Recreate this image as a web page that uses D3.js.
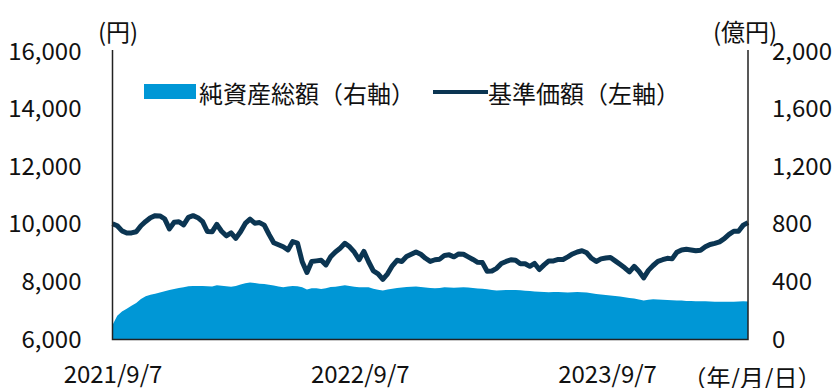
<!DOCTYPE html>
<html>
<head>
<meta charset="utf-8">
<script src="https://cdn.jsdelivr.net/npm/d3@7"></script>
<style>
  body { margin: 0; background: #fff; }
  svg { display: block; font-family: "Noto Sans CJK JP", "Noto Sans", sans-serif; }
</style>
</head>
<body>
<script>
const w = 836;
const h = 388;

// weekly dates from 2021/9/7
const startDate = new Date(2021, 8, 7);
const endDate = new Date(2024, 3, 2);

// 基準価額 (円)
const price = [
  10020, 9950, 9770, 9700, 9700, 9740, 9950, 10100, 10230, 10300,
  10290, 10190, 9840, 10070, 10090, 9980, 10240, 10300, 10230, 10090,
  9750, 9740, 10000, 9760, 9600, 9700, 9510, 9740, 10030, 10180,
  10040, 10060, 9970, 9650, 9360, 9290, 9220, 9110, 9400, 9350,
  8700, 8330, 8710, 8730, 8750, 8590, 8870, 9040, 9170, 9340,
  9220, 9030, 8770, 9060, 8700, 8380, 8280, 8090, 8280, 8560,
  8750, 8710, 8880, 8960, 9040, 8960, 8820, 8710, 8770, 8790,
  8920, 8940, 8870, 8970, 8960, 8870, 8780, 8680, 8670, 8370,
  8380, 8470, 8640, 8710, 8770, 8750, 8630, 8630, 8540, 8640,
  8430, 8590, 8730, 8730, 8780, 8780, 8870, 8970, 9040, 9080,
  9010, 8820, 8710, 8800, 8830, 8850, 8730, 8610, 8490, 8350,
  8540, 8370, 8140, 8400, 8570, 8710, 8770, 8820, 8800, 9030,
  9110, 9130, 9110, 9080, 9100, 9220, 9300, 9340, 9390, 9500,
  9650, 9760, 9760, 9970, 10060
];

// 純資産総額 (億円)
const assets = [
  100, 165, 195, 214, 235, 254, 281, 300, 310, 318,
  327, 335, 343, 351, 358, 363, 369, 372, 372, 372,
  369, 368, 377, 373, 369, 367, 372, 382, 390, 395,
  392, 388, 385, 380, 375, 368, 362, 368, 372, 370,
  362, 348, 356, 356, 351, 356, 364, 367, 371, 376,
  372, 366, 363, 363, 363, 352, 345, 340, 347, 352,
  357, 361, 364, 366, 368, 365, 361, 358, 356, 358,
  362, 361, 360, 361, 363, 361, 358, 355, 352, 349,
  344, 341, 342, 344, 344, 344, 342, 339, 336, 334,
  332, 330, 328, 329, 330, 328, 326, 328, 330, 328,
  326, 322, 316, 312, 309, 305, 302, 298, 293, 289,
  284, 278, 270, 276, 279, 278, 276, 275, 273, 271,
  270, 268, 267, 266, 266, 265, 264, 263, 263, 263,
  263, 263, 264, 265, 264
];

const leftTicks = [6000, 8000, 10000, 12000, 14000, 16000];
const rightTicks = [0, 400, 800, 1200, 1600, 2000];
const xTickLabels = ["2021/9/7", "2022/9/7", "2023/9/7"];

const dates = price.map((d, i) => d3.timeDay.offset(startDate, i * 7));
const data = dates.map((d, i) => ({ date: d, price: price[i], assets: assets[i] }));

const plotL = 112.5, plotR = 748, plotT = 51.5, plotB = 339.5;

const svg = d3.select("body")
  .append("svg")
  .attr("width", w)
  .attr("height", h);

const xScale = d3.scaleTime().domain([startDate, endDate]).range([plotL, plotR]);
const yLeft = d3.scaleLinear().domain([6000, 16000]).range([plotB, plotT]);
const yRight = d3.scaleLinear().domain([0, 2000]).range([plotB, plotT]);

// area
const area = d3.area()
  .x(d => xScale(d.date))
  .y0(plotB)
  .y1(d => yRight(d.assets));
svg.append("path")
  .datum(data)
  .attr("d", area)
  .attr("fill", "#0097d6");

// price line
const line = d3.line()
  .x(d => xScale(d.date))
  .y(d => yLeft(d.price));
svg.append("path")
  .datum(data)
  .attr("d", line)
  .attr("fill", "none")
  .attr("stroke", "#0b3552")
  .attr("stroke-width", 5)
  .attr("stroke-linejoin", "round");

// axis lines
svg.append("path")
  .attr("d", `M${plotL},${plotT - 1.5}V${plotB}H${plotR}V${plotT - 1.5}`)
  .attr("fill", "none")
  .attr("stroke", "#222")
  .attr("stroke-width", 1.5);

// axes (labels only)
const fmt = d3.format(",");
const yAxisL = d3.axisLeft(yLeft).tickValues(leftTicks).tickFormat(fmt).tickSize(0).tickPadding(31);
svg.append("g").attr("transform", `translate(${plotL},0)`).call(yAxisL)
  .call(g => g.select(".domain").remove());

const yAxisR = d3.axisRight(yRight).tickValues(rightTicks).tickFormat(fmt).tickSize(0).tickPadding(24);
svg.append("g").attr("transform", `translate(${plotR},0)`).call(yAxisR)
  .call(g => g.select(".domain").remove());

const xAxis = d3.axisBottom(xScale)
  .tickValues(xTickLabels.map(s => { const p = s.split("/"); return new Date(+p[0], +p[1] - 1, +p[2]); }))
  .tickFormat((d, i) => xTickLabels[i])
  .tickSize(0).tickPadding(26);
svg.append("g").attr("transform", `translate(0,${plotB})`).call(xAxis)
  .call(g => g.select(".domain").remove());

svg.selectAll(".tick text")
  .attr("font-family", "'Noto Sans CJK JP', sans-serif")
  .attr("font-size", 24)
  .attr("fill", "#111");

// unit labels
const unit = (x, y, t, anchor) => svg.append("text")
  .attr("x", x).attr("y", y)
  .attr("text-anchor", anchor)
  .attr("dominant-baseline", "central")
  .attr("font-size", 24)
  .attr("fill", "#111")
  .text(t);
unit(118, 30, "(円)", "middle");
unit(745, 30, "(億円)", "middle");
unit(752, 376, "（年/月/日）", "middle");

// legend
svg.append("rect")
  .attr("x", 144).attr("y", 84)
  .attr("width", 52).attr("height", 15)
  .attr("fill", "#0097d6");
unit(199, 92, "純資産総額（右軸）", "start");
svg.append("line")
  .attr("x1", 433).attr("x2", 488)
  .attr("y1", 92).attr("y2", 92)
  .attr("stroke", "#0b3552")
  .attr("stroke-width", 4);
unit(488, 92, "基準価額（左軸）", "start");
</script>
</body>
</html>
